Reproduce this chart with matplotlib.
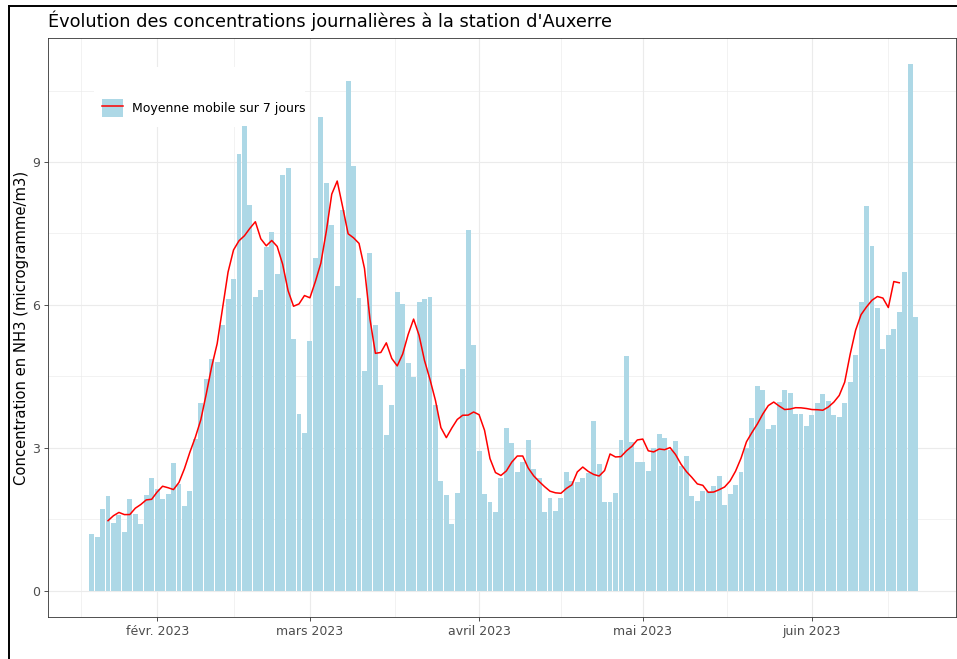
import numpy as np
import pandas as pd
import matplotlib
matplotlib.use('Agg')
import matplotlib.pyplot as plt
import matplotlib.dates as mdates
from matplotlib.patches import Patch, Rectangle
from matplotlib.lines import Line2D
from matplotlib.legend_handler import HandlerTuple

# daily NH3 concentrations, one list per month
jan = [1.20, 1.12, 1.72, 1.99, 1.43, 1.59, 1.24, 1.93, 1.60, 1.40, 2.00, 2.36]  # 20 -> 31
feb = [2.13, 1.92, 2.02, 2.67, 2.25, 1.78, 2.09, 3.18, 3.93, 4.45, 4.86, 4.81, 5.58, 6.12,
       6.55, 9.16, 9.75, 8.10, 6.16, 6.32, 7.21, 7.52, 6.65, 8.72, 8.88, 5.29, 3.71, 3.31]
mar = [5.24, 6.99, 9.95, 8.55, 7.68, 6.40, 7.99, 10.71, 8.92, 6.14, 4.61, 7.08, 5.58, 4.31,
       3.27, 3.89, 6.27, 6.02, 4.78, 4.49, 6.06, 6.13, 6.16, 3.89, 2.31, 2.01, 1.41, 2.06,
       4.65, 7.57, 5.15]
apr = [2.93, 2.03, 1.87, 1.66, 2.36, 3.41, 3.10, 2.50, 2.70, 3.17, 2.55, 2.36, 1.65, 1.95,
       1.67, 1.94, 2.50, 2.31, 2.29, 2.36, 2.48, 3.57, 2.66, 1.86, 1.86, 2.06, 3.16, 4.92,
       3.13, 2.71]
may = [2.71, 2.52, 3.00, 3.29, 3.20, 2.96, 3.14, 2.61, 2.83, 1.98, 1.88, 2.10, 2.10, 2.19,
       2.40, 1.80, 2.03, 2.22, 2.50, 2.99, 3.62, 4.30, 4.22, 3.39, 3.48, 3.97, 4.22, 4.14,
       3.71, 3.71, 3.46]
jun = [3.68, 3.95, 4.12, 3.99, 3.68, 3.64, 3.93, 4.39, 4.94, 6.07, 8.07, 7.23, 5.93, 5.07,
       5.37, 5.49, 5.84, 6.68, 11.05, 5.75]  # 1 -> 20

dates = pd.date_range('2023-01-20', '2023-06-20', freq='D')
conc = pd.Series(jan + feb + mar + apr + may + jun, index=dates)
# centred 7 day moving average, as in the original chart
moy = conc.rolling(7, center=True).mean()

month_ticks = pd.to_datetime(['2023-02-01', '2023-03-01', '2023-04-01', '2023-05-01', '2023-06-01'])
month_labels = ['févr. 2023', 'mars 2023', 'avril 2023', 'mai 2023', 'juin 2023']
minor_ticks = pd.to_datetime(['2023-01-18 00:00', '2023-02-15 00:00', '2023-03-16 12:00',
                              '2023-04-16 00:00', '2023-05-16 12:00', '2023-06-15 00:00'])
y_ticks = [0, 3, 6, 9]

fig = plt.figure(figsize=(9.57, 6.59), dpi=100, facecolor='w')
ax = fig.add_axes([48/957, 1 - 617/659, (956 - 48)/957, (617 - 38)/659])
ax.set_axisbelow(True)

ax.bar(conc.index, conc.values, width=0.9, color='#ADD8E6', linewidth=0, zorder=2)
ax.plot(moy.index, moy.values, color='red', lw=1.1, zorder=3)

# x range like the original panel
ax.set_xlim(mdates.date2num(dates[0]) - 8.0, mdates.date2num(dates[-1]) + 7.4)
ymax = conc.max()
ax.set_ylim(-0.05*ymax, 1.05*ymax)

ax.set_xticks(month_ticks)
ax.set_xticklabels(month_labels)
ax.set_xticks(minor_ticks, minor=True)
ax.set_yticks(y_ticks)
ax.set_yticks([1.5, 4.5, 7.5, 10.5], minor=True)
ax.grid(which='major', color='#EBEBEB', lw=0.8)
ax.grid(which='minor', color='#EBEBEB', lw=0.45)
ax.tick_params(which='major', length=3, width=0.6, color='#333333', labelsize=9,
               labelcolor='#4D4D4D', pad=3)
ax.tick_params(which='minor', length=0)
for s in ax.spines.values():
    s.set_color('#333333')
    s.set_linewidth(0.6)

# legend background and legend
ax.add_patch(Rectangle((46/908, 1 - 89/579), 211/908, 60/579, transform=ax.transAxes,
                       facecolor='white', edgecolor='none', zorder=1))
h = (Patch(facecolor='#ADD8E6', edgecolor='none'), Line2D([], [], color='red', lw=1.1))
ax.legend([h], ['Moyenne mobile sur 7 jours'], handler_map={tuple: HandlerTuple(ndivide=1, pad=0)},
          loc='center left', bbox_to_anchor=(54/908, 1 - 70/579), frameon=False,
          fontsize=9, handlelength=1.7, handleheight=1.75, handletextpad=0.7,
          borderpad=0, borderaxespad=0)

fig.text(48/957, 1 - 21/659, "Évolution des concentrations journalières à la station d'Auxerre",
         fontsize=12.8, ha='left', va='center')
fig.text(22/957, 1 - 328/659, 'Concentration en NH3 (microgramme/m3)', rotation=90,
         fontsize=10.6, ha='center', va='center')

# black frame of the screenshot
fig.add_artist(Line2D([8.5/957, 1], [1 - 6/659, 1 - 6/659], color='black', lw=1.4,
                      transform=fig.transFigure))
fig.add_artist(Line2D([8.5/957, 8.5/957], [0, 1 - 6/659], color='black', lw=1.4,
                      transform=fig.transFigure))

fig.savefig('out.png', dpi=100)
